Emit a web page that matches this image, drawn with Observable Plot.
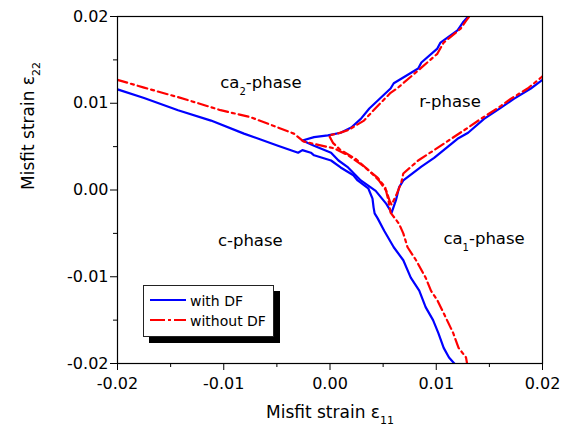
<!DOCTYPE html>
<html>
<head>
<meta charset="utf-8">
<script src="https://cdn.jsdelivr.net/npm/d3@7"></script>
<script src="https://cdn.jsdelivr.net/npm/@observablehq/plot@0.6"></script>
<style>
  html, body { margin: 0; padding: 0; background: #fff; }
  #wrap { position: relative; width: 576px; height: 430px; }
  #legend { position: absolute; left: 143px; top: 285px; width: 129px; height: 50px;
            border: 1px solid #222; background: #fff; box-shadow: 6px 6px 0 0 #000; }
</style>
</head>
<body>
<div id="wrap"></div>
<script>
// ---- tick values ----
const xTicks = [-0.02, -0.01, 0, 0.01, 0.02];
const yTicks = [-0.02, -0.01, 0, 0.01, 0.02];
const xMinor = [-0.015, -0.005, 0.005, 0.015];
const yMinor = [-0.015, -0.005, 0.005, 0.015];

// ---- series: with DF (blue) ----
// c-phase boundary (left branch + lower branch)
const withDF_c_x = [-0.0200,-0.0175,-0.0143,-0.0112,-0.0081,-0.0049,-0.0030,-0.0026,-0.0018,-0.0015,0.0001,0.0010,0.0022,0.0026,0.0036,0.0040,0.0041,0.0042,0.0045,0.0051,0.0060,0.0069,0.0076,0.0084,0.0090,0.0097,0.0102,0.0107,0.0112,0.0117];
const withDF_c_y = [0.0116,0.0106,0.0092,0.0080,0.0065,0.0051,0.0043,0.0046,0.0043,0.0040,0.0034,0.0026,0.0017,0.0011,0.0002,-0.0010,-0.0020,-0.0027,-0.0033,-0.0047,-0.0066,-0.0081,-0.0101,-0.0116,-0.0135,-0.0150,-0.0165,-0.0182,-0.0193,-0.0200];
// r-phase wedge boundary
const withDF_r_x = [0.0130,0.0125,0.0120,0.0104,0.0101,0.0086,0.0083,0.0060,0.0057,0.0037,0.0029,0.0020,0.0010,-0.0002,-0.0015,-0.0026,-0.0015,0.0001,0.0008,0.0017,0.0029,0.0043,0.0053,0.0058,0.0062,0.0065,0.0069,0.0086,0.0098,0.0120,0.0130,0.0145,0.0161,0.0173,0.0189,0.0200];
const withDF_r_y = [0.0200,0.0193,0.0184,0.0170,0.0163,0.0147,0.0140,0.0123,0.0117,0.0094,0.0082,0.0072,0.0066,0.0063,0.0061,0.0057,0.0051,0.0043,0.0034,0.0026,0.0011,-0.0001,-0.0016,-0.0026,-0.0012,0.0003,0.0011,0.0027,0.0037,0.0059,0.0066,0.0082,0.0095,0.0105,0.0117,0.0127];

// ---- series: without DF (red) ----
const noDF_c_x = [-0.0200,-0.0175,-0.0143,-0.0124,-0.0103,-0.0075,-0.0049,-0.0034,-0.0025,-0.0011,0.0004,0.0017,0.0032,0.0045,0.0052,0.0055,0.0057,0.0065,0.0069,0.0073,0.0081,0.0090,0.0095,0.0101,0.0107,0.0116,0.0121,0.0128,0.0129];
const noDF_c_y = [0.0127,0.0118,0.0107,0.0100,0.0092,0.0084,0.0072,0.0065,0.0056,0.0052,0.0048,0.0040,0.0027,0.0014,0.0003,-0.0012,-0.0026,-0.0039,-0.0050,-0.0066,-0.0081,-0.0101,-0.0116,-0.0127,-0.0142,-0.0165,-0.0182,-0.0193,-0.0200];
const noDF_r_x = [0.0131,0.0128,0.0123,0.0107,0.0101,0.0086,0.0064,0.0057,0.0041,0.0032,0.0017,0.0007,-0.0001,0.0003,0.0010,0.0024,0.0037,0.0046,0.0053,0.0056,0.0058,0.0063,0.0067,0.0069,0.0083,0.0098,0.0114,0.0130,0.0142,0.0161,0.0170,0.0186,0.0200];
const noDF_r_y = [0.0200,0.0195,0.0186,0.0170,0.0157,0.0141,0.0118,0.0112,0.0092,0.0080,0.0069,0.0065,0.0063,0.0054,0.0046,0.0036,0.0022,0.0011,-0.0001,-0.0012,-0.0017,-0.0004,0.0008,0.0019,0.0034,0.0046,0.0059,0.0072,0.0082,0.0097,0.0105,0.0117,0.0131];

// ---- legend ----
const seriesNames = ["with DF", "without DF"];
const seriesColors = ["#0000ff", "#ff0000"];
const seriesDash = ["none", "10,4,3,4"];

// ---- phase labels ----
const phasePre  = ["ca", "r-phase", "c-phase", "ca"];
const phaseSub  = ["2", "", "", "1"];
const phasePost = ["-phase", "", "", "-phase"];
const phaseX = [-0.0065, 0.0113, -0.0075, 0.0145];
const phaseY = [0.0124, 0.0102, -0.0059, -0.0056];

// ---- axis titles ----
const xTitle = ["Misfit strain ε", "11"];
const yTitle = ["Misfit strain ε", "22"];

const zip = (xs, ys, seg) => xs.map((x, i) => ({x, y: ys[i], seg}));
const blueRows = [...zip(withDF_c_x, withDF_c_y, "c"), ...zip(withDF_r_x, withDF_r_y, "r")];
const redRows  = [...zip(noDF_c_x, noDF_c_y, "c"), ...zip(noDF_r_x, noDF_r_y, "r")];
const phaseRows = phasePre.map((p, i) => ({x: phaseX[i], y: phaseY[i], text: p + phaseSub[i] + phasePost[i]}));

const FONT = "DejaVu Sans, Liberation Sans, sans-serif";
const fmt = d => d.toFixed(2);

const chart = Plot.plot({
  width: 576, height: 430,
  marginLeft: 117, marginRight: 34, marginTop: 16, marginBottom: 67,
  x: {domain: [-0.02, 0.02]},
  y: {domain: [-0.02, 0.02]},
  style: {fontFamily: FONT, fontSize: "16px", color: "black", background: "white", overflow: "visible"},
  marks: [
    Plot.line(blueRows, {x: "x", y: "y", z: "seg", stroke: seriesColors[0], strokeWidth: 2.2, clip: true}),
    Plot.line(redRows, {x: "x", y: "y", z: "seg", stroke: seriesColors[1], strokeWidth: 2.2, strokeDasharray: seriesDash[1], clip: true}),
    Plot.text(phaseRows, {x: "x", y: "y", text: "text", fontSize: 16.5, fill: "black"}),
    Plot.axisX(xTicks, {tickSize: 7, tickPadding: 7, tickFormat: fmt, label: null, stroke: "black"}),
    Plot.axisX(xMinor, {tickSize: 4, tickFormat: () => "", label: null, stroke: "black"}),
    Plot.axisY(yTicks, {tickSize: 7, tickPadding: 2, tickFormat: fmt, label: null, stroke: "black"}),
    Plot.axisY(yMinor, {tickSize: 4, tickFormat: () => "", label: null, stroke: "black"}),
    Plot.frame({stroke: "black", strokeWidth: 1.2}),
    Plot.text([xTitle.join("")], {frameAnchor: "bottom", text: d => d, dy: 54, fontSize: 17, fill: "black"}),
    Plot.text([yTitle.join("")], {frameAnchor: "left", text: d => d, rotate: -90, dx: -89, fontSize: 17, fill: "black"})
  ]
});

// subscripts
const subs = [
  ...phasePre.map((p, i) => ({full: p + phaseSub[i] + phasePost[i], pre: p, sub: phaseSub[i], post: phasePost[i], size: 10, shift: 7})),
  {full: xTitle.join(""), pre: xTitle[0], sub: xTitle[1], post: "", size: 11, shift: 6},
  {full: yTitle.join(""), pre: yTitle[0], sub: yTitle[1], post: "", size: 11, shift: 6}
].filter(s => s.sub);
d3.select(chart).selectAll("text").each(function() {
  const t = this.textContent;
  const s = subs.find(s => s.full === t);
  if (!s) return;
  const sel = d3.select(this);
  sel.text(null);
  sel.append("tspan").text(s.pre);
  sel.append("tspan").attr("font-size", s.size).attr("dy", s.shift).text(s.sub);
  if (s.post) sel.append("tspan").attr("dy", -s.shift).text(s.post);
});

const wrap = document.getElementById("wrap");
wrap.appendChild(chart);

// legend
const leg = document.createElement("div");
leg.id = "legend";
const ns = "http://www.w3.org/2000/svg";
const lsvg = d3.create("svg").attr("width", 129).attr("height", 50);
seriesNames.forEach((name, i) => {
  const y = 14 + i * 20;
  lsvg.append("line").attr("x1", 6).attr("x2", 42).attr("y1", y).attr("y2", y)
    .attr("stroke", seriesColors[i]).attr("stroke-width", 2.2)
    .attr("stroke-dasharray", i === 1 ? "15,3,3,3" : null);
  lsvg.append("text").attr("x", 46).attr("y", y + 6).attr("font-family", FONT).attr("font-size", 14)
    .attr("fill", "black").text(name);
});
leg.appendChild(lsvg.node());
wrap.appendChild(leg);
</script>
</body>
</html>
